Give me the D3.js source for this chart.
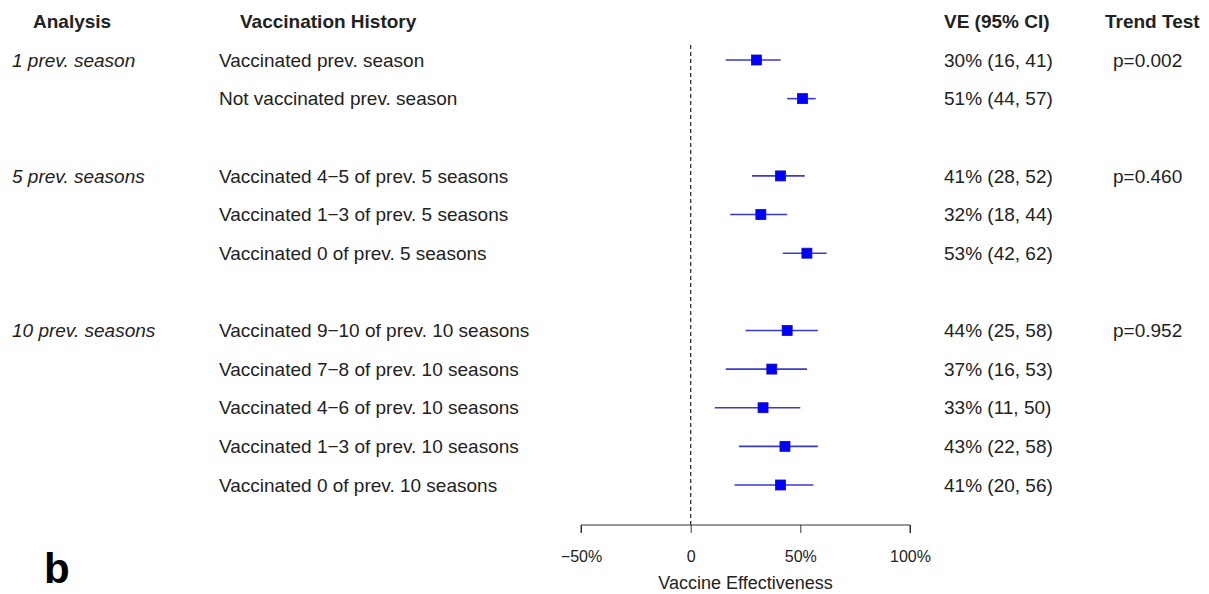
<!DOCTYPE html>
<html>
<head>
<meta charset="utf-8">
<script src="https://cdn.jsdelivr.net/npm/d3@7"></script>
<style>
  html, body { margin: 0; padding: 0; background: #fff; }
  svg { display: block; font-family: "Liberation Sans", Arial, sans-serif; }
</style>
</head>
<body>
<div id="chart"></div>
<script>
// analysis groups and the trend test per group
const analyses = ['1 prev. season', '5 prev. seasons', '10 prev. seasons'];
const trendTests = ['p=0.002', 'p=0.460', 'p=0.952'];

// one entry per row
const rowGroup = [0, 0, 1, 1, 1, 2, 2, 2, 2, 2];
const histories = [
    'Vaccinated prev. season',
    'Not vaccinated prev. season',
    'Vaccinated 4\u22125 of prev. 5 seasons',
    'Vaccinated 1\u22123 of prev. 5 seasons',
    'Vaccinated 0 of prev. 5 seasons',
    'Vaccinated 9\u221210 of prev. 10 seasons',
    'Vaccinated 7\u22128 of prev. 10 seasons',
    'Vaccinated 4\u22126 of prev. 10 seasons',
    'Vaccinated 1\u22123 of prev. 10 seasons',
    'Vaccinated 0 of prev. 10 seasons'
];
const ve = [30, 51, 41, 32, 53, 44, 37, 33, 43, 41];
const ciLow = [16, 44, 28, 18, 42, 25, 16, 11, 22, 20];
const ciHigh = [41, 57, 52, 44, 62, 58, 53, 50, 58, 56];

const xTicks = [-50, 0, 50, 100];

const width = 1209;
const height = 594;
const textColor = '#222';
const fontSize = 19;

const svg = d3.select('#chart')
    .append('svg')
    .attr('width', width)
    .attr('height', height);

// each group leaves one empty slot before the next
const slots = rowGroup.map((g, i) => i + g);
const y = d3.scaleLinear().domain([0, 11]).range([60, 485]);
const x = d3.scaleLinear().domain([-50, 100]).range([581, 910]);

const rows = histories.map((h, i) => ({
    history: h,
    group: rowGroup[i],
    first: i === 0 || rowGroup[i - 1] !== rowGroup[i],
    ve: ve[i],
    lo: ciLow[i],
    hi: ciHigh[i],
    slot: slots[i]
}));

// headers
const headY = y(-1);
const headers = [
    { text: 'Analysis', x: 33 },
    { text: 'Vaccination History', x: 240 },
    { text: 'VE (95% CI)', x: 944 },
    { text: 'Trend Test', x: 1105 }
];
svg.selectAll('text.header')
    .data(headers)
    .enter().append('text')
    .attr('class', 'header')
    .attr('x', d => d.x)
    .attr('y', headY)
    .attr('dy', '0.35em')
    .style('font-size', fontSize + 'px')
    .style('font-weight', 'bold')
    .style('fill', textColor)
    .text(d => d.text);

// analysis labels (italic) on first row of each group
svg.selectAll('text.analysis')
    .data(rows.filter(d => d.first))
    .enter().append('text')
    .attr('class', 'analysis')
    .attr('x', 12)
    .attr('y', d => y(d.slot))
    .attr('dy', '0.35em')
    .style('font-size', fontSize + 'px')
    .style('font-style', 'italic')
    .style('fill', textColor)
    .text(d => analyses[d.group]);

svg.selectAll('text.trend')
    .data(rows.filter(d => d.first))
    .enter().append('text')
    .attr('class', 'trend')
    .attr('x', 1113)
    .attr('y', d => y(d.slot))
    .attr('dy', '0.35em')
    .style('font-size', fontSize + 'px')
    .style('fill', textColor)
    .text(d => trendTests[d.group]);

svg.selectAll('text.history')
    .data(rows)
    .enter().append('text')
    .attr('class', 'history')
    .attr('x', 219)
    .attr('y', d => y(d.slot))
    .attr('dy', '0.35em')
    .style('font-size', fontSize + 'px')
    .style('fill', textColor)
    .text(d => d.history);

svg.selectAll('text.ve')
    .data(rows)
    .enter().append('text')
    .attr('class', 've')
    .attr('x', 944)
    .attr('y', d => y(d.slot))
    .attr('dy', '0.35em')
    .style('font-size', fontSize + 'px')
    .style('fill', textColor)
    .text(d => `${d.ve}% (${d.lo}, ${d.hi})`);

// reference line at zero
const axisY = 525;
svg.append('line')
    .attr('x1', x(0)).attr('x2', x(0))
    .attr('y1', 45).attr('y2', axisY)
    .attr('stroke', '#333')
    .attr('stroke-width', 1.3)
    .attr('stroke-dasharray', '4,3');

// confidence intervals
svg.selectAll('line.ci')
    .data(rows)
    .enter().append('line')
    .attr('class', 'ci')
    .attr('x1', d => x(d.lo))
    .attr('x2', d => x(d.hi))
    .attr('y1', d => y(d.slot))
    .attr('y2', d => y(d.slot))
    .attr('stroke', '#3a3acc')
    .attr('stroke-width', 1.6);

// point estimates
const sq = 10;
svg.selectAll('rect.pt')
    .data(rows)
    .enter().append('rect')
    .attr('class', 'pt')
    .attr('x', d => x(d.ve) - sq / 2)
    .attr('y', d => y(d.slot) - sq / 2)
    .attr('width', sq)
    .attr('height', sq)
    .attr('fill', '#0000ff')
    .attr('stroke', '#1010b0')
    .attr('stroke-width', 0.8);

// x axis
const axis = d3.axisBottom(x)
    .tickValues(xTicks)
    .tickSize(8)
    .tickPadding(18)
    .tickFormat(d => d === 0 ? '0' : (d < 0 ? '\u2212' + Math.abs(d) : d) + '%');

const gAxis = svg.append('g')
    .attr('transform', `translate(0,${axisY})`)
    .call(axis);
gAxis.select('.domain')
    .attr('d', `M${x(-50)},8V0H${x(100)}V8`)
    .attr('stroke', '#333');
gAxis.selectAll('.tick line').attr('stroke', '#333');
gAxis.selectAll('.tick text')
    .style('font-size', '16px')
    .style('fill', textColor)
    .style('font-family', '"Liberation Sans", Arial, sans-serif');

svg.append('text')
    .attr('x', (x(-50) + x(100)) / 2)
    .attr('y', 583)
    .attr('dy', '0.35em')
    .attr('text-anchor', 'middle')
    .style('font-size', '18px')
    .style('fill', textColor)
    .text('Vaccine Effectiveness');

// panel letter
svg.append('text')
    .attr('x', 44)
    .attr('y', 583)
    .style('font-size', '42px')
    .style('font-weight', 'bold')
    .style('fill', '#000')
    .text('b');
</script>
</body>
</html>
